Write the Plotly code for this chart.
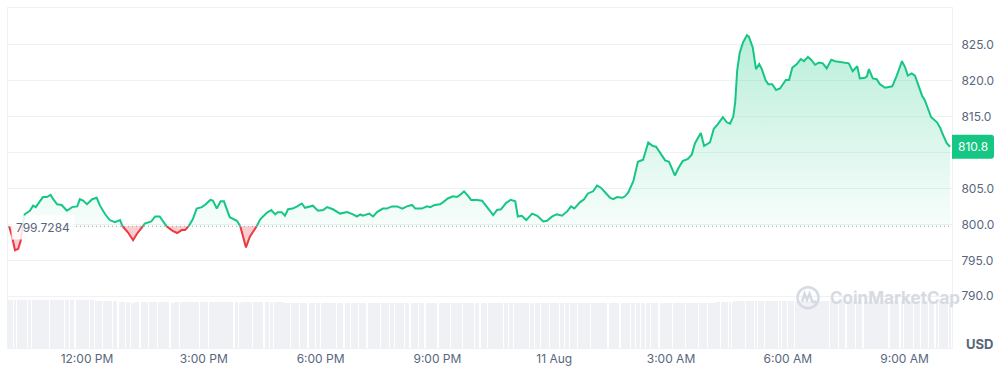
import numpy as np
import pandas as pd
import plotly.graph_objects as go

# ---------------- data ----------------
start_date = "2024-08-10"
base_price = 799.7284

times = [
    "10:00", "10:04", "10:09", "10:14", "10:18", "10:21", "10:24", "10:32", "10:37", "10:41",
    "10:46", "10:52", "10:58", "11:04", "11:08", "11:14", "11:21", "11:29", "11:37", "11:45",
    "11:49", "11:54", "12:00", "12:08", "12:15", "12:20", "12:28", "12:35", "12:43", "12:51",
    "12:55", "13:03", "13:11", "13:17", "13:25", "13:29", "13:39", "13:45", "13:52", "13:57",
    "14:03", "14:12", "14:19", "14:26", "14:31", "14:37", "14:43", "14:49", "14:57", "15:03",
    "15:10", "15:14", "15:20", "15:26", "15:31", "15:40", "15:51", "15:56", "16:00", "16:05",
    "16:11", "16:19", "16:27", "16:37", "16:44", "16:50", "16:54", "17:00", "17:05", "17:10",
    "17:17", "17:24", "17:31", "17:36", "17:44", "17:48", "17:56", "18:04", "18:10", "18:19",
    "18:30", "18:41", "18:50", "18:56", "19:01", "19:05", "19:15", "19:21", "19:27", "19:36",
    "19:42", "19:50", "19:58", "20:06", "20:13", "20:21", "20:26", "20:36", "20:44", "20:49",
    "20:56", "21:04", "21:09", "21:16", "21:24", "21:30", "21:35", "21:41", "21:46", "21:52",
    "22:01", "22:09", "22:13", "22:20", "22:26", "22:32", "22:38", "22:46", "22:53", "23:00",
    "23:04", "23:10", "23:17", "23:26", "23:34", "23:43", "23:49", "23:57", "00:04", "00:12",
    "00:20", "00:26", "00:31", "00:40", "00:46", "00:52", "01:00", "01:06", "01:12", "01:18",
    "01:26", "01:31", "01:37", "01:45", "01:49", "01:54", "02:02", "02:09", "02:17", "02:25",
    "02:32", "02:37", "02:45", "02:51", "02:57", "03:06", "03:12", "03:18", "03:26", "03:32",
    "03:37", "03:46", "03:51", "04:00", "04:06", "04:12", "04:20", "04:26", "04:31", "04:36",
    "04:39", "04:42", "04:46", "04:51", "04:57", "05:00", "05:06", "05:11", "05:16", "05:20",
    "05:26", "05:30", "05:36", "05:42", "05:48", "05:53", "05:57", "06:02", "06:07", "06:14",
    "06:20", "06:25", "06:31", "06:36", "06:42", "06:48", "06:54", "07:00", "07:07", "07:13",
    "07:24", "07:34", "07:40", "07:47", "07:51", "07:59", "08:02", "08:05", "08:11", "08:17",
    "08:22", "08:30", "08:41", "08:48", "08:56", "09:01", "09:05", "09:11", "09:16", "09:21",
    "09:27", "09:31", "09:41", "09:50", "09:55", "09:59", "10:05", "10:10",
]

price = [
    799.7, 798.5, 796.4, 796.6, 797.8, 800.0, 801.4, 801.9, 802.6, 802.4,
    803.1, 803.8, 803.8, 804.1, 803.5, 802.8, 802.7, 801.9, 802.4, 802.5,
    803.5, 803.3, 802.8, 803.5, 803.7, 802.6, 801.4, 800.6, 800.3, 800.6,
    799.7, 798.9, 797.8, 798.7, 799.6, 800.1, 800.4, 801.1, 801.1, 800.5,
    799.7, 799.1, 798.8, 799.2, 799.2, 799.8, 800.7, 802.2, 802.4, 802.8,
    803.4, 803.3, 802.2, 803.2, 803.2, 801.0, 800.5, 799.8, 798.5, 796.8,
    798.3, 799.3, 800.7, 801.6, 802.0, 801.4, 801.7, 801.7, 801.2, 802.1,
    802.2, 802.5, 802.9, 802.3, 802.5, 802.6, 801.9, 802.0, 802.4, 802.1,
    801.5, 801.7, 801.4, 801.1, 801.4, 801.2, 801.5, 801.1, 801.7, 802.2,
    802.2, 802.5, 802.5, 802.2, 802.5, 802.7, 802.2, 802.2, 802.5, 802.4,
    802.7, 802.8, 803.1, 803.6, 803.9, 803.8, 804.1, 804.6, 804.1, 803.4,
    803.4, 803.3, 802.8, 801.9, 801.3, 802.0, 802.1, 803.0, 803.4, 803.2,
    801.1, 801.2, 800.6, 801.5, 801.2, 800.4, 800.5, 801.1, 801.4, 801.2,
    801.8, 802.5, 802.2, 803.1, 803.5, 804.3, 804.6, 805.4, 805.1, 804.5,
    803.7, 803.5, 803.8, 803.7, 803.9, 804.4, 806.0, 808.7, 809.0, 811.4,
    810.9, 810.8, 809.6, 808.9, 808.7, 806.8, 807.9, 808.8, 809.1, 809.7,
    811.3, 812.7, 810.9, 811.4, 813.3, 813.9, 814.9, 814.2, 814.0, 815.0,
    817.0, 821.4, 823.9, 825.3, 826.3, 826.1, 824.6, 821.6, 822.3, 821.6,
    820.0, 819.5, 819.5, 818.7, 818.9, 819.5, 820.1, 820.1, 821.8, 822.3,
    823.0, 822.7, 823.3, 822.9, 822.2, 822.5, 822.4, 821.7, 822.9, 822.7,
    822.5, 822.4, 821.3, 822.0, 820.3, 820.4, 820.6, 821.6, 820.3, 820.2,
    819.5, 819.0, 819.2, 820.7, 822.7, 821.8, 820.7, 821.0, 820.7, 819.5,
    817.9, 817.3, 814.9, 814.2, 813.4, 812.5, 811.3, 810.8,
]

# 24h volume (relative units, only bar heights are visible)
volume = [
    48.0, 48.2, 48.3, 48.3, 48.4, 48.5, 48.8, 48.6, 48.4, 48.3,
    48.3, 48.3, 48.2, 48.3, 48.3, 48.2, 48.3, 48.3, 48.2, 48.3,
    48.3, 48.2, 48.3, 48.0, 47.6, 47.5, 47.5, 47.4, 47.3, 46.2,
    46.0, 46.0, 45.9, 46.0, 46.1, 46.0, 46.0, 46.1, 46.0, 46.0,
    46.0, 45.9, 46.0, 46.0, 46.1, 46.0, 46.0, 46.1, 46.1, 46.0,
    46.1, 46.0, 46.0, 46.2, 46.1, 46.0, 46.0, 45.9, 46.0, 46.0,
    46.0, 46.1, 46.2, 46.5, 46.7, 46.6, 46.4, 46.0, 45.8, 45.7,
    45.7, 45.6, 45.7, 45.6, 45.6, 45.5, 45.6, 45.6, 45.5, 45.6,
    45.5, 45.5, 45.6, 45.5, 45.5, 45.6, 45.5, 45.5, 45.6, 45.6,
    45.5, 45.6, 45.5, 45.5, 45.6, 45.5, 45.5, 45.4, 45.4, 45.3,
    45.3, 45.2, 45.2, 45.1, 45.0, 45.0, 45.0, 45.1, 45.2, 45.4,
    45.5, 45.6, 45.6, 45.6, 45.5, 45.5, 45.6, 45.5, 45.5, 45.5,
    45.5, 45.4, 45.5, 45.5, 45.5, 45.5, 45.5, 45.5, 45.6, 45.6,
    45.6, 45.6, 45.6, 45.6, 45.6, 45.7, 45.7, 45.7, 45.7, 45.7,
    45.7, 45.7, 45.7, 45.7, 45.7, 45.7, 45.8, 45.8, 45.8, 45.8,
    45.8, 45.8, 45.8, 45.8, 45.8, 45.8, 45.8, 45.8, 45.8, 45.9,
    45.9, 45.9, 45.9, 45.9, 45.9, 46.0, 46.0, 46.2, 46.5, 46.8,
    47.2, 47.3, 47.4, 47.4, 47.4, 47.4, 47.3, 47.3, 47.3, 47.3,
    47.3, 47.3, 47.3, 47.4, 47.3, 47.3, 47.3, 47.3, 47.4, 47.3,
    47.3, 47.3, 47.3, 47.3, 47.4, 47.3, 47.3, 47.3, 47.3, 47.3,
    47.3, 47.3, 47.3, 47.3, 47.3, 47.2, 47.3, 47.3, 47.3, 47.3,
    47.3, 47.3, 47.3, 47.3, 47.2, 47.2, 47.3, 47.3, 47.2, 47.2,
    47.2, 47.2, 47.1, 47.0, 47.0, 47.0, 46.9, 46.9,
]

x_tick_times = ["2024-08-10 12:00", "2024-08-10 15:00", "2024-08-10 18:00", "2024-08-10 21:00",
                "2024-08-11 00:00", "2024-08-11 03:00", "2024-08-11 06:00", "2024-08-11 09:00"]
x_tick_labels = ["12:00 PM", "3:00 PM", "6:00 PM", "9:00 PM", "11 Aug", "3:00 AM", "6:00 AM", "9:00 AM"]
x_range = ["2024-08-10 09:58:15", "2024-08-11 10:13:05"]
y_ticks = [790, 795, 800, 805, 810, 815, 820, 825]
y_range = [782.8, 830.1]
vol_range = [0, 343]

# ---------------- build timestamps ----------------
ts = []
day = pd.Timestamp(start_date)
prev = None
for s in times:
    h, m = map(int, s.split(":"))
    mins = h * 60 + m
    if prev is not None and mins < prev:
        day += pd.Timedelta(days=1)
    prev = mins
    ts.append(day + pd.Timedelta(minutes=mins))
tn = np.array([t.value for t in ts], dtype=float)
v = np.array(price, dtype=float)

# insert baseline crossings so the colour switches exactly at the baseline
X = [tn[0]]
Y = [v[0]]
for i in range(1, len(v)):
    a, b = v[i - 1] - base_price, v[i] - base_price
    if a * b < 0:
        f = a / (a - b)
        X.append(tn[i - 1] + f * (tn[i] - tn[i - 1]))
        Y.append(base_price)
    X.append(tn[i])
    Y.append(v[i])
X = pd.to_datetime(np.array(X, dtype="int64"))
Y = np.array(Y)

GREEN = "#16c784"
RED = "#ea3943"
TXT = "#58667e"
GRID = "#eff2f5"

fig = go.Figure()

# volume bars
widths = np.diff(tn)
widths = np.append(widths, widths[-1]) / 1e6 * 0.9
fig.add_trace(go.Bar(x=ts, y=volume, width=widths, marker=dict(color="#eff1f4", line=dict(width=0)),
                     yaxis="y2", hoverinfo="skip"))

base_arr = np.full(len(Y), base_price)
# green fill
fig.add_trace(go.Scatter(x=X, y=base_arr, mode="lines", line=dict(width=0), hoverinfo="skip"))
fig.add_trace(go.Scatter(x=X, y=np.maximum(Y, base_price), mode="lines", line=dict(width=0),
                         fill="tonexty",
                         fillgradient=dict(type="vertical", start=base_price, stop=float(v.max()),
                                           colorscale=[[0, "rgba(22,199,132,0.03)"],
                                                       [1, "rgba(22,199,132,0.30)"]]),
                         hoverinfo="skip"))
# red fill
fig.add_trace(go.Scatter(x=X, y=base_arr, mode="lines", line=dict(width=0), hoverinfo="skip"))
fig.add_trace(go.Scatter(x=X, y=np.minimum(Y, base_price), mode="lines", line=dict(width=0),
                         fill="tonexty", fillcolor="rgba(234,57,67,0.25)", hoverinfo="skip"))
# lines
fig.add_trace(go.Scatter(x=X, y=np.where(Y >= base_price, Y, np.nan), mode="lines",
                         line=dict(color=GREEN, width=2), connectgaps=False))
fig.add_trace(go.Scatter(x=X, y=np.where(Y <= base_price, Y, np.nan), mode="lines",
                         line=dict(color=RED, width=2), connectgaps=False))
# dotted baseline
fig.add_trace(go.Scatter(x=[pd.Timestamp(x_range[0]), pd.Timestamp(x_range[1])],
                         y=[base_price, base_price], mode="lines",
                         line=dict(color="#9aa3b2", width=1, dash="1px,3px"), hoverinfo="skip"))

last = price[-1]
shapes = [
    # price tag
    dict(type="path", xref="paper", yref="y", xsizemode="pixel", ysizemode="pixel",
         xanchor=1, yanchor=last,
         path="M 0,-12 L 39,-12 Q 42,-12 42,-9 L 42,9 Q 42,12 39,12 L 0,12 Z",
         fillcolor=GREEN, line=dict(width=0), layer="above"),
    # watermark logo
    dict(type="circle", xref="paper", yref="paper", xsizemode="pixel", ysizemode="pixel",
         xanchor=0.8475, yanchor=0.148, x0=-10.5, x1=10.5, y0=-10.5, y1=10.5,
         line=dict(color="#d6dae2", width=2.5), layer="above"),
    dict(type="path", xref="paper", yref="paper", xsizemode="pixel", ysizemode="pixel",
         xanchor=0.8475, yanchor=0.148,
         path="M -6,-4 L -3.5,4 L -1,-2 L 1.5,4 L 4,-3 Q 5.5,-6 8,-3",
         line=dict(color="#d6dae2", width=2.5), layer="above"),
]

annotations = [
    dict(xref="paper", yref="y", x=1, y=last, xanchor="center", yanchor="middle", xshift=21,
         text=f"{last:.1f}", showarrow=False, font=dict(color="white", size=12, family="Inter")),
    dict(xref="paper", yref="y", x=0, y=base_price, xanchor="left", yanchor="middle", xshift=3, yshift=-1,
         text=f"{base_price:.4f}", showarrow=False, bgcolor="rgba(255,255,255,0.85)", borderpad=4,
         font=dict(color=TXT, size=12, family="Inter")),
    dict(xref="paper", yref="paper", x=1, y=0, xanchor="left", yanchor="middle", xshift=12, yshift=4,
         text="<b>USD</b>", showarrow=False, font=dict(color=TXT, size=13, family="Inter")),
    dict(xref="paper", yref="paper", x=0.8475, y=0.148, xanchor="left", yanchor="middle", xshift=20,
         text="<b>CoinMarketCap</b>", showarrow=False,
         font=dict(color="#d6dae2", size=17, family="Inter")),
]

# the 810 label is covered by the price tag in the reference
y_ticktext = ["" if t == 810 else f"{t:.1f}" for t in y_ticks]

fig.update_layout(
    width=1003, height=373,
    margin=dict(l=8, r=51, t=7, b=23),
    plot_bgcolor="white", paper_bgcolor="white",
    showlegend=False,
    font=dict(family="Inter", size=12, color=TXT),
    bargap=0,
    xaxis=dict(type="date", range=x_range, tickvals=x_tick_times, ticktext=x_tick_labels,
               showgrid=False, showline=True, mirror=True, linecolor=GRID, linewidth=1,
               ticks="", zeroline=False, tickfont=dict(size=12, color=TXT)),
    yaxis=dict(side="right", range=y_range, tickvals=y_ticks,
               ticktext=y_ticktext, showgrid=True, gridcolor=GRID,
               showline=True, mirror=True, linecolor=GRID, linewidth=1,
               ticks="", ticklabelstandoff=6, zeroline=False, tickfont=dict(size=12, color=TXT)),
    yaxis2=dict(overlaying="y", range=vol_range, visible=False),
    shapes=shapes,
    annotations=annotations,
)

fig.write_html("out.html")
